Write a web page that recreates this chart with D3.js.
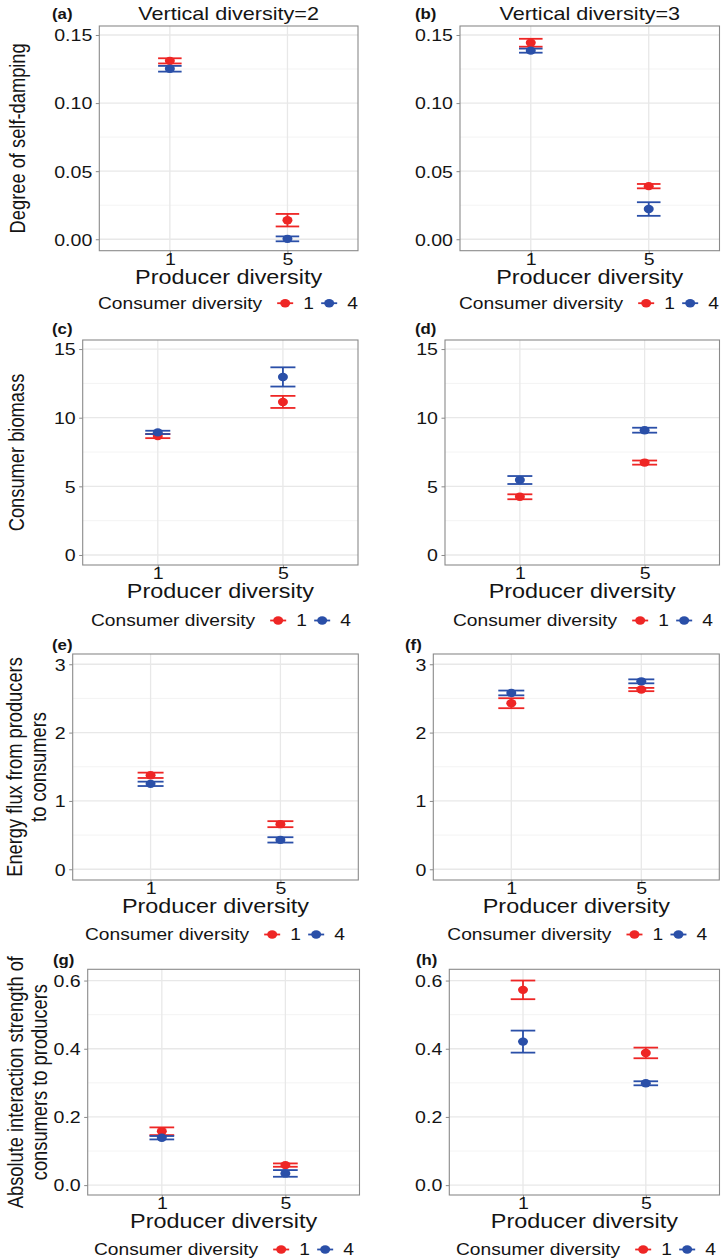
<!DOCTYPE html>
<html>
<head>
<meta charset="utf-8">
<script src="https://cdnjs.cloudflare.com/ajax/libs/d3/7.8.5/d3.min.js"></script>
<style>
  html, body { margin: 0; padding: 0; background: #ffffff; }
  svg { display: block; }
</style>
</head>
<body>
<svg id="chart" width="721" height="1260"></svg>
<script>
// Category levels
const producerLevels = ["1", "5"];
const consumerLevels = ["1", "4"];

// Means and standard errors: rows = consumer diversity level, columns = producer diversity level
const dampingV2Mean = [[0.1310, 0.0140], [0.1252, 0.0003]];
const dampingV2Se   = [[0.0019, 0.0046], [0.0021, 0.0018]];
const dampingV3Mean = [[0.1443, 0.0390], [0.1385, 0.0222]];
const dampingV3Se   = [[0.0029, 0.0016], [0.0015, 0.0050]];

const biomassV2Mean = [[8.66, 11.15], [8.93, 12.97]];
const biomassV2Se   = [[0.15, 0.44], [0.12, 0.70]];
const biomassV3Mean = [[4.24, 6.73], [5.46, 9.09]];
const biomassV3Se   = [[0.18, 0.15], [0.29, 0.18]];

const fluxV2Mean = [[1.375, 0.660], [1.250, 0.430]];
const fluxV2Se   = [[0.039, 0.044], [0.032, 0.039]];
const fluxV3Mean = [[2.43, 2.63], [2.58, 2.75]];
const fluxV3Se   = [[0.073, 0.024], [0.035, 0.029]];

const interactV2Mean = [[0.158, 0.0587], [0.139, 0.0343]];
const interactV2Se   = [[0.0113, 0.0049], [0.0050, 0.0098]];
const interactV3Mean = [[0.5727, 0.3877], [0.4209, 0.2987]];
const interactV3Se   = [[0.0274, 0.0156], [0.0323, 0.0059]];

// Tick values for each response
const dampingTicks  = [0, 0.05, 0.10, 0.15];
const biomassTicks  = [0, 5, 10, 15];
const fluxTicks     = [0, 1, 2, 3];
const interactTicks = [0, 0.2, 0.4, 0.6];

// Text labels
const columnTitles = ["Vertical diversity=2", "Vertical diversity=3"];
const xTitle = "Producer diversity";
const legendTitle = "Consumer diversity";

// ---- styling ----
const FONT = "'Liberation Sans', Arial, Helvetica, sans-serif";
const SX = 1.2;                       // horizontal widening of glyphs
const colors = ["#EE2625", "#2A4FA8"];
const gridMajor = "#E8E8E8";
const gridMinor = "#F2F2F2";
const borderColor = "#8A8A8A";
const textColor = "#141414";

// Panel layout
const panels = [
  { tag: "(a)", title: columnTitles[0], ylab: ["Degree of self-damping"], mean: dampingV2Mean, se: dampingV2Se,
    ticks: dampingTicks, fmt: d3.format(".2f"), dom: [-0.0084, 0.1566],
    box: { l: 99.3, r: 358, t: 26, b: 250.7 }, tagX: 52, tagY: 19, legX: 98, legDy: 58, ylabX: [25] },
  { tag: "(b)", title: columnTitles[1], ylab: null, mean: dampingV3Mean, se: dampingV3Se,
    ticks: dampingTicks, fmt: d3.format(".2f"), dom: [-0.0084, 0.1566],
    box: { l: 460, r: 719.5, t: 26, b: 250.7 }, tagX: 415, tagY: 19, legX: 459, legDy: 58 },
  { tag: "(c)", title: null, ylab: ["Consumer biomass"], mean: biomassV2Mean, se: biomassV2Se,
    ticks: biomassTicks, fmt: d3.format("d"), dom: [-0.73, 15.66],
    box: { l: 82.7, r: 358, t: 340, b: 565 }, tagX: 52, tagY: 334, legX: 91, legDy: 61, ylabX: [24] },
  { tag: "(d)", title: null, ylab: null, mean: biomassV3Mean, se: biomassV3Se,
    ticks: biomassTicks, fmt: d3.format("d"), dom: [-0.73, 15.66],
    box: { l: 445, r: 719.5, t: 340, b: 565 }, tagX: 415, tagY: 334, legX: 453, legDy: 61 },
  { tag: "(e)", title: null, ylab: ["Energy flux from producers", "to consumers"], mean: fluxV2Mean, se: fluxV2Se,
    ticks: fluxTicks, fmt: d3.format("d"), dom: [-0.157, 3.15],
    box: { l: 72.7, r: 358.3, t: 654, b: 880 }, tagX: 52, tagY: 650, legX: 85, legDy: 60, ylabX: [22, 46] },
  { tag: "(f)", title: null, ylab: null, mean: fluxV3Mean, se: fluxV3Se,
    ticks: fluxTicks, fmt: d3.format("d"), dom: [-0.157, 3.15],
    box: { l: 433.3, r: 719.3, t: 654, b: 880 }, tagX: 405, tagY: 650, legX: 447.3, legDy: 60 },
  { tag: "(g)", title: null, ylab: ["Absolute interaction strength of", "consumers to producers"], mean: interactV2Mean, se: interactV2Se,
    ticks: interactTicks, fmt: d3.format(".1f"), dom: [-0.029, 0.633],
    box: { l: 87.7, r: 359.5, t: 969.3, b: 1195 }, tagX: 53, tagY: 965, legX: 94, legDy: 60, ylabX: [23, 47] },
  { tag: "(h)", title: null, ylab: null, mean: interactV3Mean, se: interactV3Se,
    ticks: interactTicks, fmt: d3.format(".1f"), dom: [-0.029, 0.633],
    box: { l: 449.3, r: 719.5, t: 969.3, b: 1195 }, tagX: 416, tagY: 965, legX: 456, legDy: 60 }
];

const svg = d3.select("#chart");

// Horizontal text, widened about its anchor point
function hText(g, x, y, str, size, anchor, weight) {
  return g.append("text")
    .attr("transform", `translate(${x},${y}) scale(${SX},1)`)
    .attr("text-anchor", anchor || "start")
    .style("font-family", FONT)
    .style("font-size", size + "px")
    .style("font-weight", weight || "normal")
    .style("fill", textColor)
    .text(str);
}

// Rotated axis title (reads bottom-to-top)
function vText(g, x, y, str, size) {
  return g.append("text")
    .attr("transform", `translate(${x},${y}) rotate(-90) scale(1,${SX})`)
    .attr("text-anchor", "middle")
    .style("font-family", FONT)
    .style("font-size", size + "px")
    .style("fill", textColor)
    .text(str);
}

const DOT_RX = 5, DOT_RY = 4.2, BAR_W = 1.8;

panels.forEach(p => {
  const { l, r, t, b } = p.box;
  const g = svg.append("g");

  const x = d3.scalePoint().domain(producerLevels).range([l, r]).padding(0.6);
  const y = d3.scaleLinear().domain(p.dom).range([b, t]);
  const step = x.step();

  // minor grid (midpoints between major ticks)
  const minors = d3.pairs(p.ticks).map(([a, c]) => (a + c) / 2);
  g.append("g").selectAll("line").data(minors).join("line")
    .attr("x1", l).attr("x2", r)
    .attr("y1", d => y(d)).attr("y2", d => y(d))
    .attr("stroke", gridMinor).attr("stroke-width", 0.9);

  // major grid
  g.append("g").selectAll("line").data(p.ticks).join("line")
    .attr("x1", l).attr("x2", r)
    .attr("y1", d => y(d)).attr("y2", d => y(d))
    .attr("stroke", gridMajor).attr("stroke-width", 1.3);
  g.append("g").selectAll("line").data(producerLevels).join("line")
    .attr("x1", d => x(d)).attr("x2", d => x(d))
    .attr("y1", t).attr("y2", b)
    .attr("stroke", gridMajor).attr("stroke-width", 1.3);

  // y axis
  const yAxis = g.append("g").attr("transform", `translate(${l},0)`)
    .call(d3.axisLeft(y).tickValues(p.ticks).tickFormat(p.fmt).tickSize(3.5).tickPadding(4));
  yAxis.select(".domain").remove();
  yAxis.selectAll(".tick line").attr("stroke", borderColor).attr("stroke-width", 1);
  yAxis.selectAll(".tick text")
    .attr("x", -7 / SX).attr("dy", "0.36em")
    .attr("transform", `scale(${SX},1)`)
    .style("font-family", FONT).style("font-size", "16.3px").style("fill", textColor);

  // x axis
  const xAxis = g.append("g").attr("transform", `translate(0,${b})`)
    .call(d3.axisBottom(x).tickSize(3.5).tickPadding(3));
  xAxis.select(".domain").remove();
  xAxis.selectAll(".tick line").attr("stroke", borderColor).attr("stroke-width", 1);
  xAxis.selectAll(".tick text")
    .attr("y", 0).attr("dy", 0)
    .attr("transform", `translate(0,14) scale(${SX},1)`)
    .style("font-family", FONT).style("font-size", "16.3px").style("fill", textColor);

  // panel border
  g.append("rect")
    .attr("x", l).attr("y", t).attr("width", r - l).attr("height", b - t)
    .attr("fill", "none").attr("stroke", borderColor).attr("stroke-width", 1.1);

  // series: error bars then points
  consumerLevels.forEach((lev, si) => {
    const col = colors[si];
    const sg = g.append("g");
    producerLevels.forEach((pl, pi) => {
      const m = p.mean[si][pi], s = p.se[si][pi];
      const cx = x(pl);
      const hw = step * 0.1;
      sg.append("line").attr("x1", cx).attr("x2", cx).attr("y1", y(m - s)).attr("y2", y(m + s))
        .attr("stroke", col).attr("stroke-width", BAR_W);
      sg.append("line").attr("x1", cx - hw).attr("x2", cx + hw).attr("y1", y(m + s)).attr("y2", y(m + s))
        .attr("stroke", col).attr("stroke-width", BAR_W);
      sg.append("line").attr("x1", cx - hw).attr("x2", cx + hw).attr("y1", y(m - s)).attr("y2", y(m - s))
        .attr("stroke", col).attr("stroke-width", BAR_W);
      sg.append("ellipse").attr("cx", cx).attr("cy", y(m)).attr("rx", DOT_RX).attr("ry", DOT_RY)
        .attr("fill", col);
    });
  });

  // panel tag and column title
  hText(g, p.tagX, p.tagY, p.tag, 14, "start", "bold");
  if (p.title) hText(g, (l + r) / 2, 20, p.title, 18, "middle");

  // y axis title
  if (p.ylab) {
    p.ylab.forEach((line, i) => vText(g, p.ylabX[i], (t + b) / 2, line, 18.3));
  }

  // x axis title
  hText(g, (l + r) / 2, b + 33, xTitle, 19.5, "middle");

  // legend
  const ly = b + p.legDy;
  const lt = hText(g, p.legX, ly, legendTitle, 16, "start");
  const tw = lt.node().getComputedTextLength() * SX;
  let kx = p.legX + tw + 23;
  consumerLevels.forEach((lev, si) => {
    const col = colors[si];
    g.append("line").attr("x1", kx - 8).attr("x2", kx + 8).attr("y1", ly - 5.5).attr("y2", ly - 5.5)
      .attr("stroke", col).attr("stroke-width", BAR_W);
    g.append("ellipse").attr("cx", kx).attr("cy", ly - 5.5).attr("rx", DOT_RX).attr("ry", DOT_RY).attr("fill", col);
    hText(g, kx + 18, ly, lev, 16, "start");
    kx += 18 + 26;
  });
});
</script>
</body>
</html>
